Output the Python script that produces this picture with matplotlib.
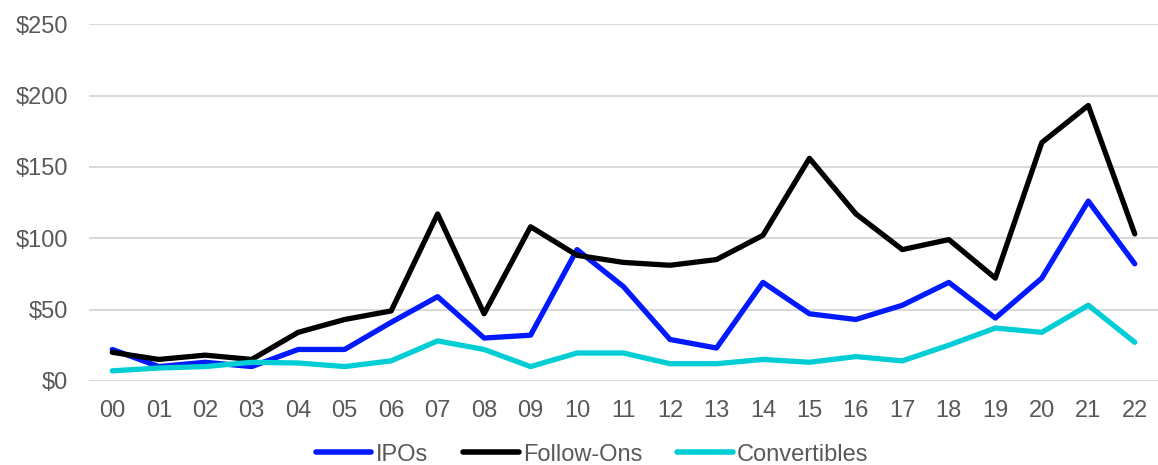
import matplotlib
matplotlib.use("Agg")
import matplotlib.pyplot as plt
from matplotlib.ticker import FuncFormatter

years = ["00", "01", "02", "03", "04", "05", "06", "07", "08", "09", "10",
         "11", "12", "13", "14", "15", "16", "17", "18", "19", "20", "21", "22"]
ipos = [22, 10, 13, 10, 22, 22, 41, 59, 30, 32, 92, 66, 29, 23, 69, 47, 43,
        53, 69, 44, 72, 126, 82]
follow_ons = [20, 15, 18, 15, 34, 43, 49, 117, 47, 108, 88, 83, 81, 85, 102,
              156, 117, 92, 99, 72, 167, 193, 103]
convertibles = [7, 9, 10, 13, 12.5, 10, 14, 28, 22, 10, 19.5, 19.5, 12, 12,
                15, 13, 17, 14, 25, 37, 34, 53, 27]

plt.rcParams["font.family"] = ["Liberation Sans", "DejaVu Sans"]
grey = "#595959"

fig = plt.figure(figsize=(11.58, 4.65), dpi=100)
ax = fig.add_axes([0.0769, 0.181, 0.9231, 0.767])

x = list(range(len(years)))
lw = 3.8
ax.plot(x, ipos, color="#0019FF", lw=lw, label="IPOs", solid_capstyle="round", zorder=3)
ax.plot(x, follow_ons, color="#000000", lw=lw, label="Follow-Ons", solid_capstyle="round", zorder=3)
ax.plot(x, convertibles, color="#00CED4", lw=lw, label="Convertibles", solid_capstyle="round", zorder=3)

ax.set_xlim(-0.5, len(years) - 0.5)
ax.set_ylim(0, 250)
ax.set_yticks(range(0, 251, 50))
ax.yaxis.set_major_formatter(FuncFormatter(lambda v, p: f"${int(v)}"))
ax.set_xticks(x)
ax.set_xticklabels(years)
ax.grid(axis="y", color="#D9D9D9", lw=1.5, zorder=0)
ax.set_axisbelow(True)
for s in ax.spines.values():
    s.set_visible(False)
ax.tick_params(axis="both", length=0, labelsize=17, colors=grey)
ax.tick_params(axis="x", pad=14)
ax.tick_params(axis="y", pad=15)

leg = ax.legend(loc="upper center", bbox_to_anchor=(0.4705, -0.163), ncol=3,
                frameon=False, fontsize=17, handlelength=2.37, handletextpad=0.17,
                columnspacing=1.48, borderaxespad=0.0, borderpad=0.2)
for t in leg.get_texts():
    t.set_color(grey)
for h in leg.get_lines():
    h.set_linewidth(4)
    h.set_solid_capstyle("round")

fig.savefig("out.png", dpi=100)
